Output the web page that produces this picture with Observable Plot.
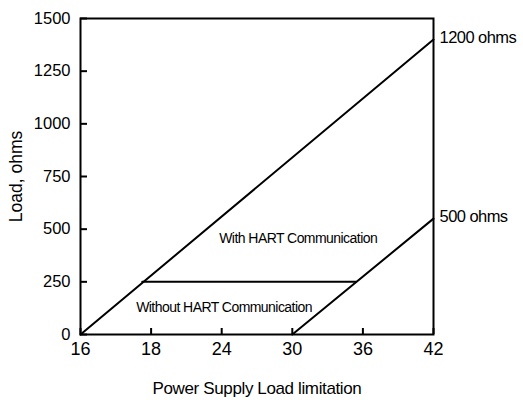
<!DOCTYPE html>
<html>
<head>
<meta charset="utf-8">
<script src="https://cdn.jsdelivr.net/npm/d3@7"></script>
<script src="https://cdn.jsdelivr.net/npm/@observablehq/plot@0.6"></script>
<style>
  html, body { margin: 0; padding: 0; background: #fff; }
  #chart svg { display: block; }
</style>
</head>
<body>
<div id="chart"></div>
<script>
// Tick values
const xTicks = [16, 18, 24, 30, 36, 42];
const yTicks = [0, 250, 500, 750, 1000, 1250, 1500];

// Series: with HART communication (upper limit line)
const hartVolts = [16, 42];
const hartLoad = [0, 1400];
// Series: without HART communication (lower limit line)
const noHartVolts = [30, 42];
const noHartLoad = [0, 550];
// Minimum 250 ohm load for HART
const minVolts = [17.75, 35.4];
const minLoad = [250, 250];

// End labels
const endLabels = ["1200 ohms", "500 ohms"];
const endVolts = [42, 42];
const endLoad = [1400, 550];

// Region annotations
const regionLabels = ["With HART Communication", "Without HART Communication"];
const regionVolts = [30.5, 24.2];
const regionLoad = [456, 126];

const xTitle = "Power Supply Load limitation";
const yTitle = "Load, ohms";

const toPts = (xs, ys) => xs.map((x, i) => ({x, y: ys[i]}));

const W = 523, H = 400;
const mL = 80, mR = 90, mT = 18, mB = 66;
const frameW = W - mL - mR, frameH = H - mT - mB;

const chart = Plot.plot({
  width: W,
  height: H,
  marginLeft: mL,
  marginRight: mR,
  marginTop: mT,
  marginBottom: mB,
  style: {fontFamily: "Liberation Sans", background: "#fff", color: "#000"},
  x: {type: "linear", domain: xTicks},
  y: {type: "linear", domain: [0, 1500]},
  marks: [
    Plot.frame({stroke: "#000", strokeWidth: 2}),
    // inward tick marks
    Plot.tickX(xTicks, {x: d => d, stroke: "#000", strokeWidth: 2, insetTop: frameH - 6}),
    Plot.tickY(yTicks, {y: d => d, stroke: "#000", strokeWidth: 2, insetRight: frameW - 7}),
    // tick labels
    Plot.axisX({ticks: xTicks, tickSize: 0, tickPadding: 8, tickFormat: d => String(d),
      fontSize: 18, fontFamily: "Liberation Sans", label: null}),
    Plot.axisY({ticks: yTicks, tickSize: 0, tickPadding: 10, tickFormat: d => String(d),
      fontSize: 16.5, fontFamily: "Liberation Sans", label: null}),
    // axis titles
    Plot.axisX({text: null, tickSize: 0, label: xTitle, labelAnchor: "center",
      labelArrow: "none", labelOffset: 59, fontSize: 17, fontFamily: "Liberation Sans"}),
    Plot.axisY({text: null, tickSize: 0, label: yTitle, labelAnchor: "center",
      labelArrow: "none", labelOffset: 71, fontSize: 17.5, fontFamily: "Liberation Sans"}),
    // lines
    Plot.line(toPts(hartVolts, hartLoad), {x: "x", y: "y", stroke: "#000", strokeWidth: 2}),
    Plot.line(toPts(noHartVolts, noHartLoad), {x: "x", y: "y", stroke: "#000", strokeWidth: 2}),
    Plot.line(toPts(minVolts, minLoad), {x: "x", y: "y", stroke: "#000", strokeWidth: 2}),
    // labels
    Plot.text(endLabels.map((t, i) => ({t, x: endVolts[i], y: endLoad[i]})), {
      x: "x", y: "y", text: "t", textAnchor: "start", dx: 6, dy: -2,
      fontSize: "16.5px", fontFamily: "Liberation Sans", fill: "#000"}),
    Plot.text(regionLabels.map((t, i) => ({t, x: regionVolts[i], y: regionLoad[i]})), {
      x: "x", y: "y", text: "t",
      fontSize: "14px", fontFamily: "Liberation Sans", fill: "#000"})
  ]
});

// Condense the text slightly to match the narrow typeface of the original
const svgSel = d3.select(chart);
svgSel.selectAll("text").each(function () {
  const s = this.textContent;
  const t = d3.select(this);
  if (endLabels.includes(s)) t.style("font-size", "16.5px").style("letter-spacing", "-0.55px");
  else if (regionLabels.includes(s)) t.style("font-size", "14px").style("letter-spacing", "-0.55px");
  else if (s.includes(xTitle)) t.style("letter-spacing", "-0.37px");
});

document.getElementById("chart").appendChild(chart);
</script>
</body>
</html>
